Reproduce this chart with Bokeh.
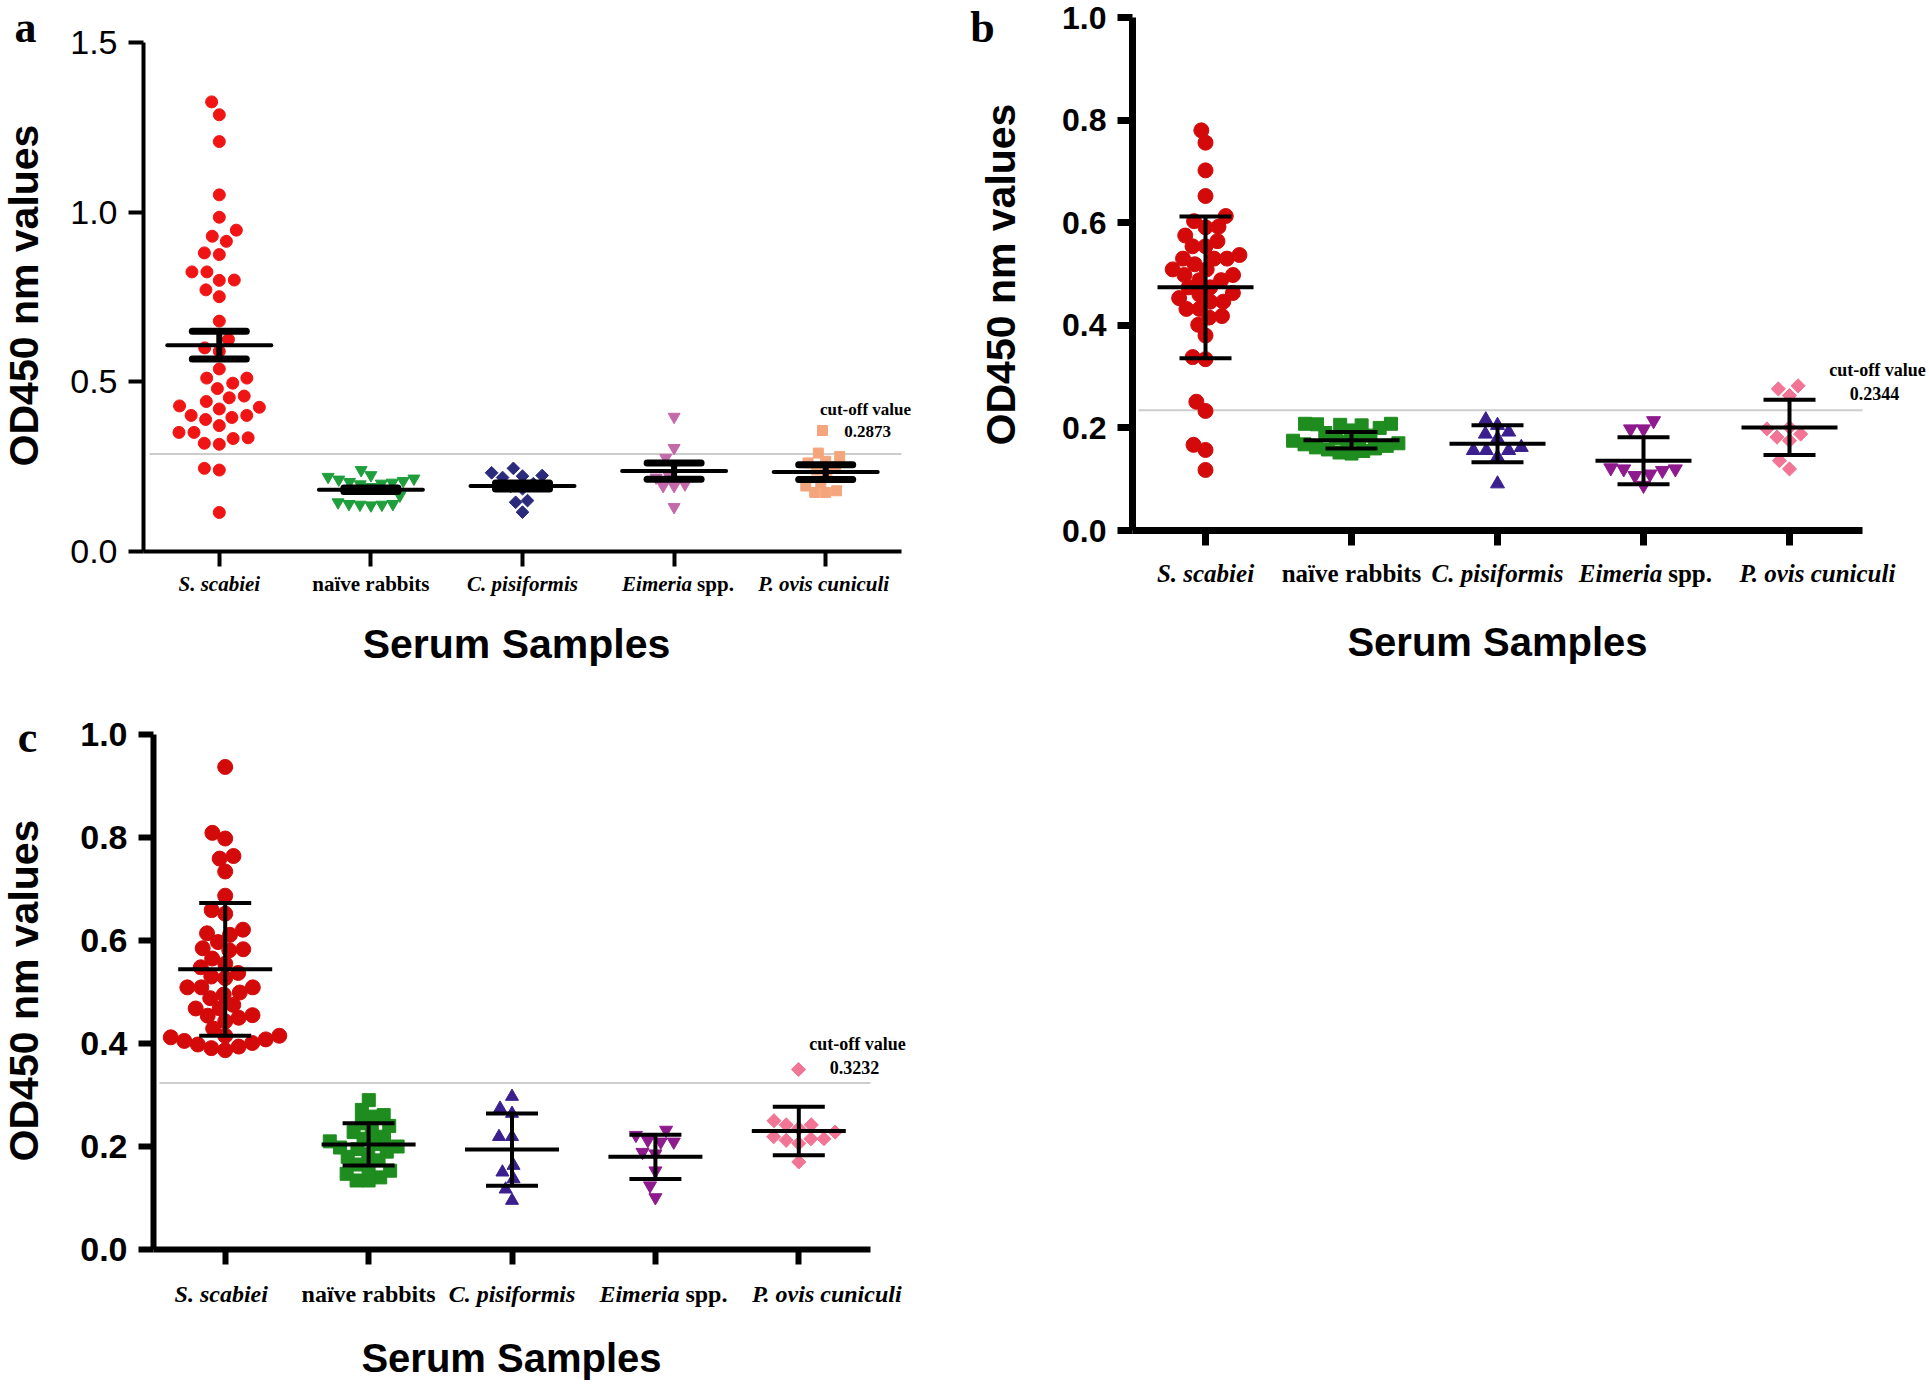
import math
import numpy as np
from bokeh.plotting import figure
from bokeh.models import Range1d, FixedTicker, Label, ColumnDataSource
from bokeh.layouts import column, row
from bokeh.embed import file_html
from bokeh.resources import INLINE

# ---------------- data ----------------
categories = ["S. scabiei", "naïve rabbits", "C. pisiformis", "Eimeria spp.", "P. ovis cuniculi"]
cat_italic = ["S. scabiei", "", "C. pisiformis", "Eimeria", "P. ovis cuniculi"]
cat_upright = ["", "naïve rabbits", "", "spp.", ""]

# panel a
a_scabiei = [1.325, 1.287, 1.208, 1.051, 0.985, 0.947, 0.929, 0.914, 0.880, 0.875, 0.824, 0.824,
             0.800, 0.799, 0.771, 0.751, 0.679, 0.625, 0.600, 0.590, 0.538, 0.511, 0.511, 0.496,
             0.480, 0.458, 0.453, 0.442, 0.429, 0.425, 0.420, 0.401, 0.401, 0.395, 0.389, 0.371,
             0.351, 0.351, 0.335, 0.333, 0.319, 0.316, 0.245, 0.240, 0.115]
a_naive = [0.240, 0.225, 0.220, 0.215, 0.212, 0.208, 0.205, 0.203, 0.200, 0.198, 0.190, 0.165,
           0.145, 0.140, 0.140, 0.138, 0.138, 0.136]
a_cpis = [0.245, 0.232, 0.224, 0.222, 0.218, 0.200, 0.192, 0.185, 0.150, 0.145, 0.116]
a_eim = [0.397, 0.305, 0.276, 0.255, 0.222, 0.218, 0.198, 0.193, 0.193, 0.131]
a_povis = [0.290, 0.280, 0.266, 0.261, 0.250, 0.240, 0.230, 0.203, 0.193, 0.179, 0.174, 0.174]
a_mean = [0.608, 0.182, 0.193, 0.237, 0.234]
a_err = [0.041, 0.005, 0.009, 0.024, 0.022]
a_cut = 0.2873
a_yticks = [0.0, 0.5, 1.0, 1.5]

# panel b
b_scabiei = [0.780, 0.756, 0.702, 0.652, 0.613, 0.603, 0.592, 0.591, 0.575, 0.564, 0.554, 0.554,
             0.537, 0.530, 0.530, 0.530, 0.519, 0.509, 0.509, 0.498, 0.498, 0.488, 0.488, 0.474,
             0.474, 0.463, 0.460, 0.453, 0.446, 0.446, 0.432, 0.432, 0.418, 0.415, 0.401, 0.380,
             0.338, 0.334, 0.251, 0.233, 0.167, 0.157, 0.118]
b_naive = [0.208, 0.208, 0.207, 0.206, 0.205, 0.200, 0.195, 0.190, 0.185, 0.180, 0.178, 0.175,
           0.172, 0.170, 0.168, 0.165, 0.162, 0.160, 0.158, 0.155, 0.152, 0.150]
b_cpis = [0.216, 0.205, 0.192, 0.188, 0.179, 0.162, 0.156, 0.156, 0.156, 0.143, 0.091]
b_eim = [0.214, 0.198, 0.198, 0.122, 0.120, 0.120, 0.117, 0.110, 0.107, 0.088]
b_povis = [0.282, 0.276, 0.263, 0.201, 0.198, 0.188, 0.182, 0.175, 0.136, 0.120]
b_mean = [0.474, 0.176, 0.169, 0.136, 0.201]
b_err = [0.138, 0.016, 0.036, 0.046, 0.054]
b_cut = 0.2344
b_yticks = [0.0, 0.2, 0.4, 0.6, 0.8, 1.0]

# panel c
c_scabiei = [0.937, 0.809, 0.798, 0.764, 0.759, 0.734, 0.687, 0.659, 0.652, 0.621, 0.614, 0.611,
             0.597, 0.585, 0.583, 0.581, 0.565, 0.555, 0.548, 0.537, 0.530, 0.527, 0.509, 0.509,
             0.509, 0.499, 0.495, 0.488, 0.475, 0.468, 0.468, 0.455, 0.454, 0.450, 0.443, 0.429,
             0.415, 0.415, 0.412, 0.408, 0.405, 0.401, 0.398, 0.394, 0.391, 0.387]
c_naive = [0.290, 0.271, 0.261, 0.258, 0.245, 0.240, 0.232, 0.228, 0.219, 0.215, 0.210, 0.205,
           0.200, 0.198, 0.195, 0.190, 0.185, 0.180, 0.173, 0.165, 0.160, 0.153, 0.147, 0.140,
           0.134, 0.134]
c_cpis = [0.297, 0.274, 0.264, 0.219, 0.219, 0.163, 0.150, 0.137, 0.117, 0.095]
c_eim = [0.232, 0.222, 0.212, 0.209, 0.209, 0.189, 0.186, 0.153, 0.124, 0.101]
c_povis = [0.250, 0.242, 0.242, 0.235, 0.228, 0.219, 0.215, 0.215, 0.212, 0.206, 0.170]
c_mean = [0.544, 0.204, 0.194, 0.180, 0.230]
c_err = [0.129, 0.041, 0.070, 0.043, 0.047]
c_cut = 0.3232
c_yticks = [0.0, 0.2, 0.4, 0.6, 0.8, 1.0]

# ---------------- geometry (page pixels) ----------------
# canvas box (cx, cy, cw, ch); axis corner (ax, ay); axis top (atop); x-axis end (xend)
GA = dict(cx=0, cy=0, cw=953, ch=698, ax=143, ay=551, atop=42, xend=901, y1=1.5)
GB = dict(cx=953, cy=0, cw=976, ch=698, ax=1132, ay=530, atop=17, xend=1862, y1=1.0)
GC = dict(cx=0, cy=698, cw=953, ch=684, ax=153, ay=1249, atop=734, xend=870, y1=1.0)
X0, X1 = -0.5, 4.5

SANS = "Liberation Sans"
SERIF = "Liberation Serif"


def ppx(G):
    return (G['xend'] - G['ax']) / (X1 - X0)


def ppy(G):
    return (G['ay'] - G['atop']) / G['y1']


def dxp(G, px):
    return X0 + (px - G['ax']) / ppx(G)


def dyp(G, py):
    return (G['ay'] - py) / ppy(G)


def swarm(vals, py_per_unit, d):
    n = len(vals)
    order = sorted(range(n), key=lambda i: vals[i])
    placed = []
    offs = [0.0] * n
    for i in order:
        y = vals[i] * py_per_unit
        cands = [0.0]
        for xo, yo in placed:
            ddy = abs(y - yo)
            if ddy < d:
                ddx = math.sqrt(d * d - ddy * ddy)
                cands += [xo + ddx, xo - ddx]
        cands.sort(key=lambda c: (abs(c), c))
        for c in cands:
            if all((c - xo) ** 2 + (y - yo) ** 2 >= d * d - 1e-6 for xo, yo in placed):
                offs[i] = c
                break
        placed.append((offs[i], y))
    return offs


def add_text(p, x, y, text, font, size, style, align="center", angle=0.0, x_offset=0):
    p.add_layout(Label(x=x, y=y, text=text, text_font=font, text_font_size=f"{size}px",
                       text_font_style=style, text_align=align, text_baseline="middle",
                       text_color="black", angle=angle, x_offset=x_offset))


def make_panel(G, letter, groups, colors, markers, sizes, swarm_d, means, errs, cut, yticks,
               tick_style, tick_fs, axis_lw, eb, cat_fs, cat_y, cat_shift, title_pos, xt_pos,
               letter_pos, cut_pos, val_pos, marker_pos, cut_fs):
    xs0 = dxp(G, G['cx'])
    xs1 = dxp(G, G['cx'] + G['cw'])
    ys0 = dyp(G, G['cy'] + G['ch'])
    ys1 = dyp(G, G['cy'])
    p = figure(width=G['cw'], height=G['ch'], x_range=Range1d(xs0, xs1), y_range=Range1d(ys0, ys1),
               output_backend="svg", toolbar_location=None,
               min_border_left=0, min_border_right=0, min_border_top=0, min_border_bottom=0)
    p.title.visible = False
    p.outline_line_color = None
    p.xgrid.grid_line_color = None
    p.ygrid.grid_line_color = None
    p.background_fill_color = "white"
    p.border_fill_color = "white"

    xa = p.xaxis[0]
    xa.fixed_location = 0
    xa.bounds = (X0, X1)
    xa.ticker = FixedTicker(ticks=list(range(len(categories))))
    xa.major_label_overrides = {i: "" for i in range(len(categories))}
    ya = p.yaxis[0]
    ya.fixed_location = X0
    ya.bounds = (0, G['y1'])
    ya.ticker = FixedTicker(ticks=yticks)
    ya.major_label_overrides = {t: f"{t:.1f}" for t in yticks}
    ya.major_label_text_font = SANS
    ya.major_label_text_font_size = f"{tick_fs}px"
    ya.major_label_text_font_style = tick_style
    ya.major_label_text_color = "black"
    ya.major_label_standoff = 11
    for ax in (xa, ya):
        ax.axis_line_width = axis_lw
        ax.axis_line_color = "black"
        ax.major_tick_line_width = axis_lw
        ax.major_tick_line_color = "black"
        ax.major_tick_out = 15
        ax.major_tick_in = 0
        ax.minor_tick_line_color = None

    sx = ppx(G)
    sy = ppy(G)

    # cut-off reference line
    p.segment(x0=[X0 + 6 / sx], y0=[cut], x1=[X1], y1=[cut], line_color="#cdcdcd", line_width=2)

    for i, vals in enumerate(groups):
        offs = swarm(vals, sy, swarm_d[i])
        xs = [i + o / sx for o in offs]
        mk = markers[i]
        ang = 0.0
        if mk == "diamond":
            mk = "square"
            ang = math.pi / 4
        src = ColumnDataSource(dict(x=xs, y=vals))
        p.scatter("x", "y", source=src, marker=mk, size=sizes[i], angle=ang,
                  fill_color=colors[i], line_color=colors[i], line_width=1)

    # error bars (mean +/- error)
    hm, hc, lw_m, lw_c, lw_v, cap = eb
    m = np.array(means)
    e = np.array(errs)
    xcn = np.arange(len(means), dtype=float)
    wm = hm / sx
    wc = hc / sx
    p.segment(x0=xcn, y0=m - e, x1=xcn, y1=m + e, line_color="black", line_width=lw_v, line_cap=cap)
    p.segment(x0=xcn - wc, y0=m + e, x1=xcn + wc, y1=m + e, line_color="black", line_width=lw_c,
              line_cap=cap)
    p.segment(x0=xcn - wc, y0=m - e, x1=xcn + wc, y1=m - e, line_color="black", line_width=lw_c,
              line_cap=cap)
    p.segment(x0=xcn - wm, y0=m, x1=xcn + wm, y1=m, line_color="black", line_width=lw_m,
              line_cap=cap)

    # category labels
    ly = dyp(G, cat_y)
    for i in range(len(categories)):
        it, up = cat_italic[i], cat_upright[i]
        xi = i + cat_shift[i] / sx
        if it and up:
            split = 0.667 * cat_fs / sx
            add_text(p, xi + split, ly, it, SERIF, cat_fs, "bold italic", align="right")
            add_text(p, xi + split, ly, up, SERIF, cat_fs, "bold", align="left",
                     x_offset=round(0.25 * cat_fs))
        else:
            add_text(p, xi, ly, it or up, SERIF, cat_fs, "bold italic" if it else "bold")

    # axis titles and panel letter
    add_text(p, dxp(G, title_pos[0]), dyp(G, title_pos[1]), "OD450 nm values", SANS, 41, "bold",
             angle=math.pi / 2)
    add_text(p, dxp(G, xt_pos[0]), dyp(G, xt_pos[1]), "Serum Samples", SANS, xt_pos[2], "bold")
    add_text(p, dxp(G, letter_pos[0]), dyp(G, letter_pos[1]), letter, SERIF, 44, "bold")

    # cut-off annotation
    add_text(p, dxp(G, cut_pos[0]), dyp(G, cut_pos[1]), "cut-off value", SERIF, cut_fs, "bold")
    add_text(p, dxp(G, val_pos[0]), dyp(G, val_pos[1]), f"{cut:.4f}", SERIF, cut_fs, "bold")
    if marker_pos is not None:
        mx, my, mk, ms, mc = marker_pos
        ang = 0.0
        if mk == "diamond":
            mk = "square"
            ang = math.pi / 4
        p.scatter([dxp(G, mx)], [dyp(G, my)], marker=mk, size=ms, angle=ang,
                  fill_color=mc, line_color=mc)
    return p


a_colors = ["#f01414", "#1f9e3c", "#2b2b7d", "#c46aaa", "#f4a57c"]
bc_colors = ["#d40a0a", "#1e8c1e", "#3b1f8f", "#8e1a8e", "#f27595"]

pa = make_panel(GA, "a", [a_scabiei, a_naive, a_cpis, a_eim, a_povis], a_colors,
                ["circle", "inverted_triangle", "diamond", "inverted_triangle", "square"],
                [12, 12, 9, 12, 10], [15, 11, 12, 11, 11], a_mean, a_err, a_cut, a_yticks,
                "normal", 34, 4, (52, 27, 4, 7, 6, "round"), 21, 583, [0, 0, 0, 4, -2],
                (23, 295), (516, 643, 41), (25, 27),
                (865, 409), (867, 431), (822, 430, "square", 10, "#f4a57c"), 17)

pb = make_panel(GB, "b", [b_scabiei, b_naive, b_cpis, b_eim, b_povis], bc_colors,
                ["circle", "square", "triangle", "inverted_triangle", "diamond"],
                [15, 13, 14, 14, 10], [13, 12, 13, 13, 13], b_mean, b_err, b_cut, b_yticks,
                "bold", 32, 7, (48, 26, 4, 4, 4, "butt"), 25, 573, [0, 0, 0, 2, 28],
                (1000, 274), (1497, 641, 40), (982, 27),
                (1877, 369), (1874, 393), None, 18)

pc = make_panel(GC, "c", [c_scabiei, c_naive, c_cpis, c_eim, c_povis], bc_colors,
                ["circle", "square", "triangle", "inverted_triangle", "diamond"],
                [15, 13, 13, 13, 10], [14, 12, 13, 13, 13], c_mean, c_err, c_cut, c_yticks,
                "bold", 34, 6, (47, 26, 4, 4, 4, "butt"), 24, 1293, [-4, 0, 0, 8, 28],
                (23, 990), (511, 1357, 40), (27, 737),
                (857, 1043), (854, 1067), (798, 1069, "diamond", 10, "#f27595"), 18)

layout = column(row(pa, pb), pc)
open("out.html", "w").write(file_html(layout, INLINE))
